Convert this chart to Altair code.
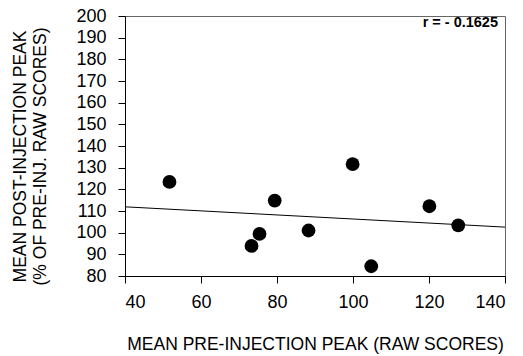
import altair as alt
import pandas as pd

pre_peak = [51.7, 73.3, 75.4, 79.4, 88.3, 99.9, 104.8, 120.1, 127.7]
post_peak = [123.4, 93.9, 99.4, 114.8, 101.0, 131.6, 84.5, 112.2, 103.4]
x_ticks = [40, 60, 80, 100, 120, 140]
y_ticks = list(range(80, 201, 10))
r_label = ["r = - 0.1625"]

df = pd.DataFrame({"x": pre_peak, "y": post_peak})
FONT = "Liberation Sans"

xs = alt.Scale(domain=[40, 140], nice=False, zero=False)
ys = alt.Scale(domain=[80, 200], nice=False, zero=False)

x_axis = alt.Axis(
    values=x_ticks, title="MEAN PRE-INJECTION PEAK (RAW SCORES)", grid=False,
    domainColor="black", tickColor="black", tickSize=7, labelFontSize=18,
    labelPadding=10, labelColor="black", labelOverlap=False,
    titleFontSize=17.5, titleFontWeight="normal",
    titleColor="black", titleY=59, titleBaseline="top",
    labelFont=FONT, titleFont=FONT,
)
y_axis = alt.Axis(
    values=y_ticks, title=["MEAN POST-INJECTION PEAK", "(% OF PRE-INJ. RAW SCORES)"],
    grid=False, domainColor="black", tickColor="black", tickSize=7, labelFontSize=18,
    labelPadding=12, labelColor="black", labelOverlap=False,
    titleFontSize=17.5, titleFontWeight="normal",
    titleColor="black", titleX=-114, titleY=140, titleAngle=-90, titleAlign="center",
    titleBaseline="top", titleLineHeight=20.5, labelFont=FONT, titleFont=FONT,
)

X = alt.X("x:Q", scale=xs, axis=x_axis)
Y = alt.Y("y:Q", scale=ys, axis=y_axis)

base = alt.Chart(df)

points = base.mark_circle(size=190, color="black", opacity=1).encode(x=X, y=Y)

line = base.transform_regression("x", "y", extent=[40, 140]).mark_line(
    color="black", strokeWidth=1
).encode(x=X, y=Y)

label = alt.Chart(pd.DataFrame({"t": r_label})).mark_text(
    align="right", baseline="middle", fontSize=14.5, fontWeight="bold",
    font=FONT, color="black"
).encode(text="t:N", x=alt.value(373), y=alt.value(7))

chart = (line + points + label).properties(
    width=380, height=260,
    autosize=alt.AutoSizeParams(type="none"),
    padding={"left": 125, "top": 16, "right": 18, "bottom": 80},
    background="white",
).configure_view(stroke="#666666", strokeWidth=1)

chart.save("out.html", embed_options={"renderer": "svg", "actions": False})
